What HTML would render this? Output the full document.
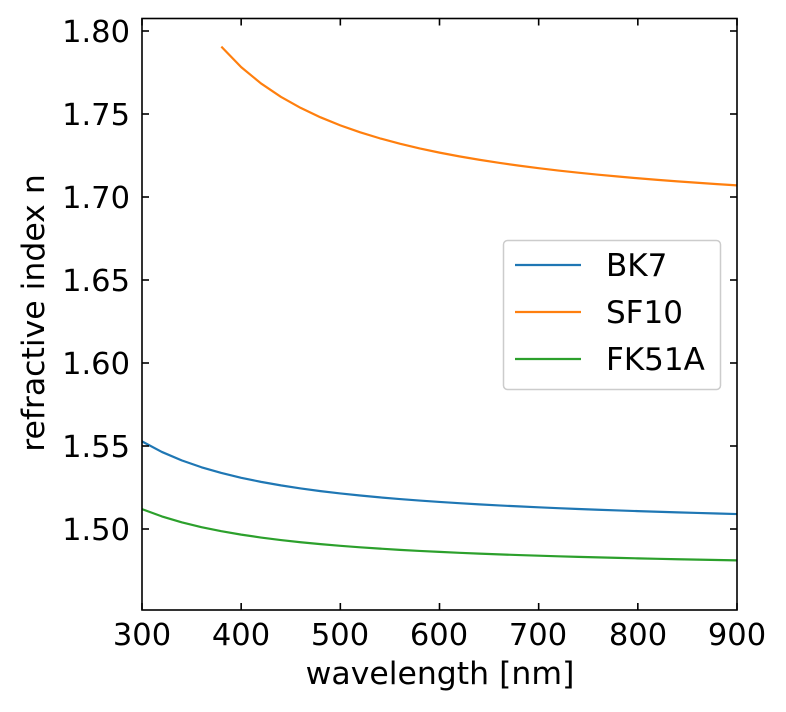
<!DOCTYPE html>
<html><head><meta charset="utf-8"><style>
html,body{margin:0;padding:0;background:#fff;}
svg{display:block;font-family:"DejaVu Sans","Liberation Sans",sans-serif;}
</style></head><body>
<svg id="s" width="786" height="712" viewBox="0 0 786 712" xmlns="http://www.w3.org/2000/svg">
<rect width="786" height="712" fill="#fff"/>
<g id="curves" fill="none" stroke-width="2.2" stroke-linejoin="round">
<path id="bk7" stroke="#1f77b4"/>
<path id="sf10" stroke="#ff7f0e"/>
<path id="fk" stroke="#2ca02c"/>
</g>
<rect x="142" y="18.5" width="595" height="591.5" fill="none" stroke="#000" stroke-width="1.6"/>
<g stroke="#000" stroke-width="1.6" id="ticks"></g>
<g font-size="30.5" fill="#000" text-anchor="middle">
<text x="142" y="645">300</text><text x="241" y="645">400</text><text x="340" y="645">500</text><text x="439" y="645">600</text><text x="538" y="645">700</text><text x="638" y="645">800</text><text x="737" y="645">900</text>
</g>
<text x="440" y="684" font-size="31.5" text-anchor="middle">wavelength [nm]</text>
<g font-size="30.5" fill="#000" text-anchor="end">
<text x="130" y="42">1.80</text><text x="130" y="125">1.75</text><text x="130" y="208">1.70</text><text x="130" y="291">1.65</text><text x="130" y="374">1.60</text><text x="130" y="457">1.55</text><text x="130" y="540">1.50</text>
</g>
<text transform="translate(44,313) rotate(-90)" font-size="31.5" text-anchor="middle">refractive index n</text>
<rect x="503.5" y="240.5" width="217" height="149" rx="4" fill="#fff" fill-opacity="0.8" stroke="#ccc" stroke-width="1.5"/>
<line x1="515" y1="265" x2="581" y2="265" stroke="#1f77b4" stroke-width="2.2"/>
<line x1="515" y1="312" x2="581" y2="312" stroke="#ff7f0e" stroke-width="2.2"/>
<line x1="515" y1="359" x2="581" y2="359" stroke="#2ca02c" stroke-width="2.2"/>
<g font-size="31" fill="#000">
<text x="606" y="276">BK7</text><text x="606" y="323">SF10</text><text x="606" y="370">FK51A</text>
</g>
</svg>
<script>
function sell(B,C,l){l=l/1000;var l2=l*l,s=1;for(var i=0;i<3;i++)s+=B[i]*l2/(l2-C[i]);return Math.sqrt(s);}
function X(l){return 142+(l-300)*595/600;}
function Y(n){return 31+(1.80-n)*1660;}
function path(B,C,start){var d="";for(var l=start;l<=900;l+=20){d+=(d?"L":"M")+X(l).toFixed(2)+","+Y(sell(B,C,l)).toFixed(2);}return d;}
document.getElementById("bk7").setAttribute("d",path([1.03961212,0.231792344,1.01046945],[0.00600069867,0.0200179144,103.560653],300));
document.getElementById("sf10").setAttribute("d",path([1.62153902,0.256287842,1.64447552],[0.0122241457,0.0595736775,147.468793],380));
document.getElementById("fk").setAttribute("d",path([0.971247817,0.216901417,0.904651666],[0.00472301995,0.0153575612,168.68133],300));
var t=document.getElementById("ticks"),h="";
for(var l=300;l<=900;l+=100){var x=X(l);h+='<line x1="'+x+'" y1="610" x2="'+x+'" y2="603"/><line x1="'+x+'" y1="18.5" x2="'+x+'" y2="25.5"/>';}
for(var i=0;i<7;i++){var y=31+83*i;h+='<line x1="142" y1="'+y+'" x2="149" y2="'+y+'"/><line x1="737" y1="'+y+'" x2="730" y2="'+y+'"/>';}
t.innerHTML=h;
</script>
</body></html>
